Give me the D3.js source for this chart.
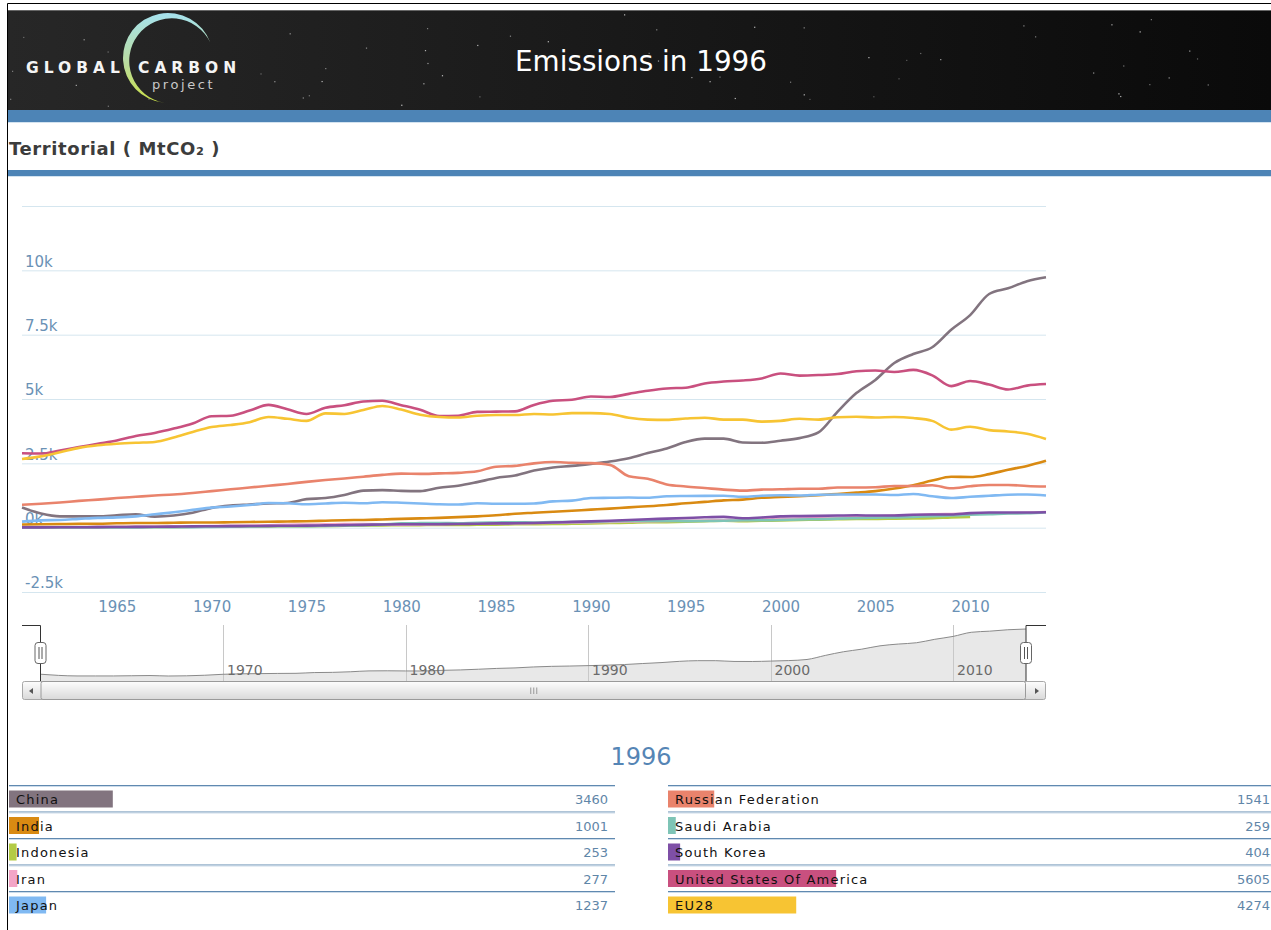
<html>
  <body style="margin:0;background:#fff;">
    <style>
      svg text { font-family: "DejaVu Sans", sans-serif; }
    </style>

    <script src="https://d3js.org/d3.v7.min.js"></script>

    <svg id="chart" width="1271" height="930"></svg>

    <script>
      // ---- data (MtCO2, territorial) ----
      const years = d3.range(1960, 2015);
      const selectedYear = 1996;

      const china = [780, 550, 440, 440, 440, 480, 520, 430, 470, 580, 770, 860, 900, 940, 960, 1110, 1150, 1270, 1440, 1460,
        1430, 1420, 1550, 1630, 1770, 1930, 2030, 2220, 2340, 2400, 2480, 2570, 2700, 2900, 3080, 3330, 3460, 3460, 3310, 3300,
        3380, 3480, 3700, 4500, 5230, 5740, 6400, 6750, 7010, 7690, 8260, 9080, 9300, 9580, 9730];
      const india = [120, 130, 140, 150, 150, 170, 180, 180, 190, 200, 200, 210, 220, 230, 240, 250, 270, 290, 300, 320,
        340, 360, 380, 410, 440, 480, 540, 580, 620, 660, 700, 740, 790, 830, 880, 950, 1001, 1060, 1090, 1160,
        1190, 1220, 1260, 1310, 1360, 1420, 1520, 1650, 1830, 1980, 1970, 2080, 2250, 2400, 2600];
      const indonesia = [22, 21, 21, 20, 23, 24, 24, 24, 28, 33, 36, 39, 45, 52, 55, 58, 65, 75, 85, 90,
        95, 100, 105, 105, 115, 120, 130, 135, 140, 150, 160, 180, 190, 210, 215, 230, 253, 270, 250, 270,
        280, 300, 310, 330, 340, 340, 350, 360, 370, 400, 420, null, null, null, null];
      const iran = [20, 22, 25, 28, 30, 35, 40, 45, 50, 55, 62, 70, 80, 95, 110, 120, 130, 140, 140, 135,
        120, 125, 135, 155, 160, 170, 170, 180, 190, 200, 210, 225, 240, 255, 265, 270, 277, 290, 300, 320,
        340, 350, 370, 390, 410, 440, 470, 490, 520, 530, 540, 550, 560, 580, 610];
      const japan = [235, 285, 300, 340, 380, 400, 440, 520, 600, 690, 780, 820, 880, 960, 950, 910, 940, 970, 950, 990,
        970, 940, 910, 900, 950, 930, 930, 940, 1020, 1050, 1150, 1160, 1170, 1160, 1220, 1230, 1237, 1240, 1200, 1240,
        1260, 1250, 1280, 1290, 1290, 1290, 1270, 1310, 1220, 1150, 1200, 1240, 1280, 1290, 1250];
      const russia = [890, 930, 980, 1040, 1090, 1150, 1200, 1250, 1290, 1350, 1420, 1490, 1560, 1630, 1700, 1780, 1850, 1910, 1980, 2050,
        2100, 2090, 2110, 2130, 2190, 2370, 2400, 2500, 2550, 2520, 2510, 2440, 2000, 1900, 1680, 1600, 1541, 1480, 1440, 1480,
        1490, 1510, 1510, 1560, 1560, 1570, 1620, 1620, 1650, 1530, 1610, 1660, 1660, 1620, 1600];
      const saudiArabia = [4, 5, 6, 7, 8, 10, 12, 14, 16, 20, 30, 40, 50, 55, 55, 55, 70, 85, 100, 120,
        165, 175, 180, 170, 190, 200, 210, 200, 220, 220, 225, 250, 260, 265, 260, 255, 259, 270, 290, 290,
        300, 320, 330, 350, 370, 390, 400, 420, 450, 470, 500, 520, 550, 560, 600];
      const southKorea = [12, 13, 15, 18, 20, 25, 30, 35, 42, 50, 55, 60, 62, 70, 75, 80, 90, 100, 110, 125,
        130, 130, 135, 140, 155, 165, 170, 180, 200, 225, 245, 270, 300, 330, 350, 375, 404, 420, 365, 395,
        440, 450, 460, 470, 480, 470, 475, 500, 510, 510, 565, 590, 590, 590, 600];
      const usa = [2890, 2880, 3000, 3130, 3260, 3390, 3560, 3680, 3850, 4050, 4330, 4350, 4550, 4770, 4600, 4420, 4660, 4760, 4900, 4930,
        4760, 4580, 4340, 4350, 4500, 4510, 4520, 4770, 4930, 4970, 5100, 5080, 5200, 5320, 5410, 5440, 5605, 5680, 5720, 5800,
        5990, 5910, 5930, 5970, 6080, 6110, 6050, 6130, 5920, 5500, 5700, 5560, 5370, 5520, 5580];
      const eu28 = [2670, 2770, 2930, 3100, 3200, 3260, 3300, 3330, 3500, 3720, 3910, 3990, 4100, 4300, 4230, 4150, 4440, 4420, 4570, 4730,
        4590, 4390, 4300, 4280, 4350, 4380, 4380, 4420, 4400, 4450, 4450, 4420, 4270, 4200, 4190, 4240, 4274, 4200, 4200, 4120,
        4150, 4230, 4200, 4290, 4310, 4280, 4300, 4260, 4150, 3810, 3920, 3790, 3740, 3650, 3450];

      const countries = ['China', 'India', 'Indonesia', 'Iran', 'Japan',
        'Russian Federation', 'Saudi Arabia', 'South Korea', 'United States Of America', 'EU28'];
      const seriesValues = [china, india, indonesia, iran, japan, russia, saudiArabia, southKorea, usa, eu28];
      const colors = ['#82747f', '#d98a12', '#b3cb45', '#f3a5c7', '#80b9f2',
        '#e9836c', '#7ec4b6', '#7e4fa6', '#c9507f', '#f7c433'];

      const yTickValues = [-2500, 0, 2500, 5000, 7500, 10000, 12500];
      const xTickValues = [1965, 1970, 1975, 1980, 1985, 1990, 1995, 2000, 2005, 2010];
      const navTickValues = [1970, 1980, 1990, 2000, 2010];

      // ---- drawing ----
      const svg = d3.select('#chart');
      const defs = svg.append('defs');

      const headGrad = defs.append('linearGradient').attr('id', 'headGrad');
      headGrad.append('stop').attr('offset', '0%').attr('stop-color', '#272727');
      headGrad.append('stop').attr('offset', '100%').attr('stop-color', '#0a0a0a');

      const arcGrad = defs.append('linearGradient').attr('id', 'arcGrad')
        .attr('x1', 0).attr('y1', 0).attr('x2', 0).attr('y2', 1);
      arcGrad.append('stop').attr('offset', '0%').attr('stop-color', '#a6e2ee');
      arcGrad.append('stop').attr('offset', '55%').attr('stop-color', '#b9dca0');
      arcGrad.append('stop').attr('offset', '100%').attr('stop-color', '#c9df45');

      const barGrad = defs.append('linearGradient').attr('id', 'barGrad')
        .attr('x1', 0).attr('y1', 0).attr('x2', 0).attr('y2', 1);
      barGrad.append('stop').attr('offset', '0%').attr('stop-color', '#fdfdfd');
      barGrad.append('stop').attr('offset', '100%').attr('stop-color', '#d9d9d9');

      // frame
      svg.append('path').attr('d', 'M7.5,930 V3.5 H1271').attr('fill', 'none').attr('stroke', '#000');

      // header
      const header = svg.append('g');
      header.append('rect').attr('x', 8).attr('y', 10).attr('width', 1263).attr('height', 100).attr('fill', 'url(#headGrad)');
      header.append('line').attr('x1', 8).attr('x2', 1271).attr('y1', 10.5).attr('y2', 10.5).attr('stroke', '#666');

      // stars (deterministic decoration)
      let seed = 7;
      const rnd = () => { seed = (seed * 16807) % 2147483647; return seed / 2147483647; };
      for (let i = 0; i < 60; i++) {
        header.append('rect')
          .attr('x', 10 + rnd() * 1255).attr('y', 14 + rnd() * 92)
          .attr('width', 1.2).attr('height', 1.2)
          .attr('fill', '#fff').attr('opacity', 0.3 + rnd() * 0.45);
      }

      // logo
      header.append('path')
        .attr('d', 'M210.3,42.6 A45,45 0 1,0 164.1,102.8 A42.6,42.6 0 1,1 210.3,42.6 Z')
        .attr('fill', 'url(#arcGrad)');
      header.append('text').attr('x', 26).attr('y', 73).text('GLOBAL')
        .attr('fill', '#f4f4f4').style('font-size', '15.5px').style('font-weight', 'bold').style('letter-spacing', '5px');
      header.append('text').attr('x', 138).attr('y', 73).text('CARBON')
        .attr('fill', '#f4f4f4').style('font-size', '15.5px').style('font-weight', 'bold').style('letter-spacing', '5px');
      header.append('text').attr('x', 152).attr('y', 89).text('project')
        .attr('fill', '#c8c8c8').style('font-size', '13px').style('letter-spacing', '2.6px');

      header.append('text').attr('x', 641).attr('y', 71).attr('text-anchor', 'middle')
        .text(`Emissions in ${selectedYear}`)
        .attr('fill', '#fff').style('font-size', '27.8px');

      // blue bands
      svg.append('rect').attr('x', 8).attr('y', 110).attr('width', 1263).attr('height', 12).attr('fill', '#4d84b6');
      svg.append('rect').attr('x', 8).attr('y', 122).attr('width', 1263).attr('height', 1).attr('fill', '#d3e3f0');
      svg.append('text').attr('x', 9).attr('y', 155).text('Territorial ( MtCO₂ )')
        .attr('fill', '#3c3c3c').style('font-size', '18px').style('font-weight', 'bold').style('letter-spacing', '0.6px');
      svg.append('rect').attr('x', 8).attr('y', 170).attr('width', 1263).attr('height', 6).attr('fill', '#4d84b6');
      svg.append('rect').attr('x', 8).attr('y', 176).attr('width', 1263).attr('height', 1).attr('fill', '#d3e3f0');

      // main chart
      const plot = { left: 22, right: 1046, top: 206, bottom: 592 };
      const x = d3.scaleLinear().domain([1960, 2014]).range([plot.left, plot.right]);
      const y = d3.scaleLinear().domain([-2500, 12500]).range([plot.bottom, plot.top]);

      const yAxis = d3.axisRight(y)
        .tickValues(yTickValues)
        .tickSize(plot.right - plot.left)
        .tickFormat((d) => (d === 12500 ? '' : `${d / 1000}k`));
      const yAxisG = svg.append('g').attr('transform', `translate(${plot.left},0)`).call(yAxis);
      yAxisG.select('.domain').remove();
      yAxisG.selectAll('.tick line').attr('stroke', '#d5e6ef');
      yAxisG.selectAll('.tick text')
        .attr('x', 3).attr('dy', '-0.28em')
        .attr('fill', '#6a91b5').style('font-size', '15px');

      const xAxis = d3.axisBottom(x).tickValues(xTickValues).tickSize(0).tickPadding(9).tickFormat(d3.format('d'));
      const xAxisG = svg.append('g').attr('transform', `translate(0,${plot.bottom})`).call(xAxis);
      xAxisG.select('.domain').remove();
      xAxisG.selectAll('.tick text').attr('fill', '#6a91b5').style('font-size', '15px');

      const line = d3.line()
        .defined((d) => d != null)
        .curve(d3.curveMonotoneX)
        .x((d, i) => x(years[i]))
        .y((d) => y(d));

      svg.append('g').selectAll('path')
        .data(seriesValues)
        .join('path')
        .attr('fill', 'none')
        .attr('stroke', (d, i) => colors[i])
        .attr('stroke-width', 2.6)
        .attr('stroke-linejoin', 'round')
        .attr('d', (d) => line(d));

      // navigator
      const nav = { left: 40.5, right: 1026, top: 625, bottom: 681 };
      const nx = d3.scaleLinear().domain([1960, 2014]).range([nav.left, nav.right]);
      const ny = d3.scaleLinear().domain([d3.min(china), d3.max(china)]).range([676, 629]);
      const navG = svg.append('g');

      navG.append('path')
        .attr('d', d3.area().curve(d3.curveMonotoneX).x((d, i) => nx(years[i])).y0(nav.bottom).y1((d) => ny(d))(china))
        .attr('fill', '#e8e8e8');
      navG.selectAll('line.nav-grid')
        .data(navTickValues)
        .join('line')
        .attr('class', 'nav-grid')
        .attr('x1', (d) => Math.round(nx(d)) + 0.5).attr('x2', (d) => Math.round(nx(d)) + 0.5)
        .attr('y1', nav.top).attr('y2', nav.bottom)
        .attr('stroke', '#c8c8c8');
      navG.append('path')
        .attr('d', d3.line().curve(d3.curveMonotoneX).x((d, i) => nx(years[i])).y((d) => ny(d))(china))
        .attr('fill', 'none').attr('stroke', '#8a8a8a').attr('stroke-width', 1);
      navG.selectAll('text.nav-label')
        .data(navTickValues)
        .join('text')
        .attr('class', 'nav-label')
        .attr('x', (d) => nx(d) + 4).attr('y', 675)
        .attr('fill', '#6b6b6b').style('font-size', '14px')
        .text((d) => d);

      // handles
      navG.append('path').attr('d', `M${plot.left},625.5 H${nav.left} V${nav.bottom}`).attr('fill', 'none').attr('stroke', '#333');
      navG.append('path').attr('d', `M${plot.right},625.5 H${nav.right} V${nav.bottom}`).attr('fill', 'none').attr('stroke', '#333');
      [nav.left, nav.right].forEach((hx) => {
        navG.append('rect').attr('x', hx - 5.5).attr('y', 642.5).attr('width', 11).attr('height', 21).attr('rx', 3)
          .attr('fill', '#fff').attr('stroke', '#666');
        navG.append('path').attr('d', `M${hx - 1.5},647 V659 M${hx + 1.5},647 V659`).attr('stroke', '#555');
      });

      // scrollbar
      const sb = svg.append('g');
      sb.append('rect').attr('x', plot.left + 0.5).attr('y', 681.5).attr('width', plot.right - plot.left - 1).attr('height', 18)
        .attr('rx', 2).attr('fill', 'url(#barGrad)').attr('stroke', '#a8a8a8');
      sb.append('rect').attr('x', nav.left + 0.5).attr('y', 681.5).attr('width', nav.right - nav.left - 1).attr('height', 18)
        .attr('rx', 2).attr('fill', 'url(#barGrad)').attr('stroke', '#9a9a9a');
      sb.append('path').attr('d', 'M33,688 L29,691 L33,694 Z').attr('fill', '#555');
      sb.append('path').attr('d', 'M1035,688 L1039,691 L1035,694 Z').attr('fill', '#555');
      const gx = (nav.left + nav.right) / 2;
      sb.append('path').attr('d', `M${gx - 2.5},687.5 V694 M${gx + 0.5},687.5 V694 M${gx + 3.5},687.5 V694`).attr('stroke', '#999');

      // year + table
      svg.append('text').attr('x', 641).attr('y', 765).attr('text-anchor', 'middle')
        .text(selectedYear).attr('fill', '#5585b5').style('font-size', '24px');

      const yearIdx = years.indexOf(selectedYear);
      const barX = d3.scaleLinear().domain([0, 20000]).range([0, 600]);
      const columns = [
        { x: 9, width: 606, valueX: 608 },
        { x: 668, width: 603, valueX: 1270 },
      ];
      const rows = countries.map((name, i) => ({
        name,
        value: seriesValues[i][yearIdx],
        color: colors[i],
        col: columns[Math.floor(i / 5)],
        row: i % 5,
      }));
      const rowH = 26.5;
      const rowG = svg.append('g').selectAll('g')
        .data(rows)
        .join('g')
        .attr('transform', (d) => `translate(${d.col.x},${785 + d.row * rowH})`);
      rowG.append('rect').attr('x', 0).attr('y', 0).attr('width', (d) => d.col.width).attr('height', 1).attr('fill', '#6089b0');
      rowG.append('rect').attr('x', 0).attr('y', 1).attr('width', (d) => d.col.width).attr('height', 1).attr('fill', '#cddcea');
      rowG.append('rect').attr('x', 0).attr('y', 5.5).attr('height', 17)
        .attr('width', (d) => barX(d.value)).attr('fill', (d) => d.color);
      rowG.append('text').attr('x', 7).attr('y', 19)
        .attr('fill', '#111').style('font-size', '13px').style('letter-spacing', '1.2px')
        .text((d) => d.name);
      rowG.append('text').attr('x', (d) => d.col.valueX - d.col.x).attr('y', 19).attr('text-anchor', 'end')
        .attr('fill', '#5f86a8').style('font-size', '13px')
        .text((d) => d.value);
    </script>
  </body>
</html>
